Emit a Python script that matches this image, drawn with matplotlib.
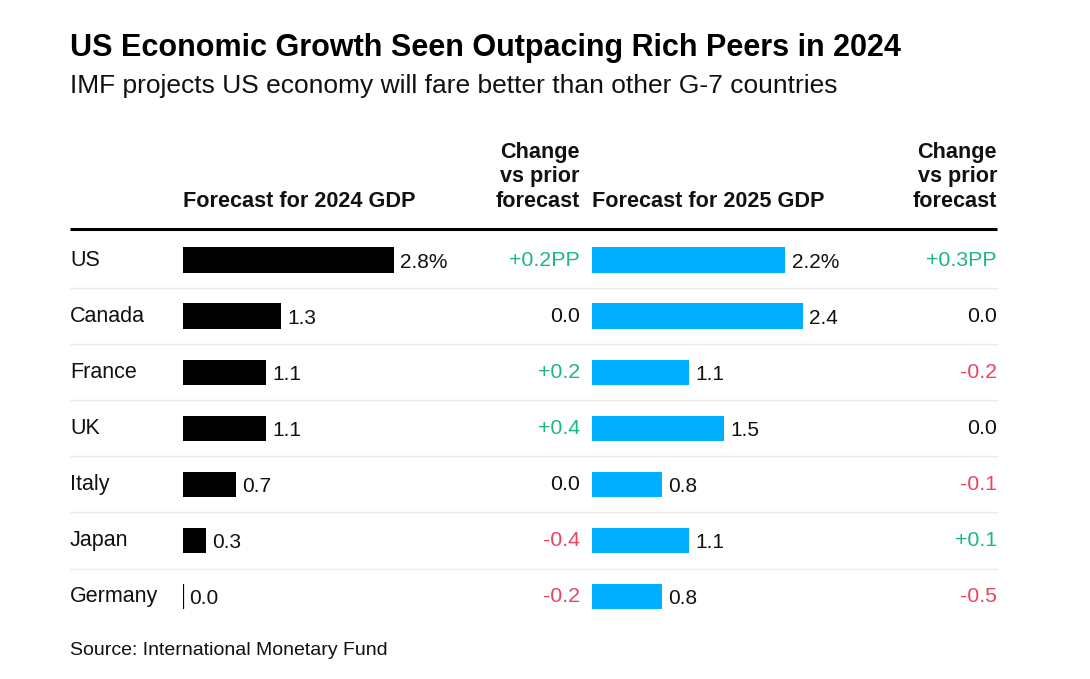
import numpy as np
import matplotlib
matplotlib.use("Agg")
import matplotlib.pyplot as plt
from matplotlib.transforms import blended_transform_factory

plt.rcParams['font.family'] = ['Liberation Sans', 'DejaVu Sans']

# data
countries = ["US", "Canada", "France", "UK", "Italy", "Japan", "Germany"]
gdp_2024 = [2.8, 1.3, 1.1, 1.1, 0.7, 0.3, 0.0]
gdp_2025 = [2.2, 2.4, 1.1, 1.5, 0.8, 1.1, 0.8]
chg_2024 = [0.2, 0.0, 0.2, 0.4, 0.0, -0.4, -0.2]
chg_2025 = [0.3, 0.0, -0.2, 0.0, -0.1, 0.1, -0.5]

W, H = 1090, 679
GREEN = "#1bb87c"
RED = "#e8465f"
BLUE = "#00aeff"

fig = plt.figure(figsize=(W / 100, H / 100), dpi=100)
fig.patch.set_facecolor("white")

# overlay axes in pixel units for the text and rules
ax0 = fig.add_axes([0, 0, 1, 1])
ax0.set_xlim(0, W)
ax0.set_ylim(H, 0)
ax0.axis("off")

n = len(countries)
row0, step = 260, 56.1
top_px = row0 - step / 2
bot_px = row0 + step * (n - 0.5)


def bar_axes(left_px, width_px):
    ax = fig.add_axes([left_px / W, 1 - bot_px / H, width_px / W, (bot_px - top_px) / H])
    ax.set_ylim(n - 0.5, -0.5)
    ax.axis("off")
    ax.patch.set_alpha(0)
    return ax


ax24 = bar_axes(183, 211)
ax24.set_xlim(0, max(gdp_2024))
ax25 = bar_axes(592, 211)
ax25.set_xlim(0, max(gdp_2025))

bh = 0.45
y = np.arange(n)
for ax, vals, col in [(ax24, gdp_2024, "black"), (ax25, gdp_2025, BLUE)]:
    ax.barh(y, vals, height=bh, color=col, linewidth=0)
    for i, v in enumerate(vals):
        if v == 0:
            ax.plot([0, 0], [i - bh / 2, i + bh / 2], color=col, lw=1.6, solid_capstyle="butt")
        lab = f"{v:.1f}%" if i == 0 else f"{v:.1f}"
        ax.annotate(lab, (v, i), xytext=(4.5, -1.5), textcoords="offset points",
                    ha="left", va="center", fontsize=15, color="#111111")

# country labels and change columns share the row scale
tr = blended_transform_factory(ax0.transData, ax24.transData)
for i, c in enumerate(countries):
    ax0.text(70, i, c, transform=tr, ha="left", va="center", fontsize=15.5, color="#111111")


def fmt(v, first):
    s = "0.0" if v == 0 else f"{v:+.1f}"
    if first and v != 0:
        s += "PP"
    return s


def col(v):
    if v > 0:
        return GREEN
    if v < 0:
        return RED
    return "#111111"


for xr, chg in [(580, chg_2024), (997, chg_2025)]:
    for i, v in enumerate(chg):
        ax0.text(xr, i, fmt(v, i == 0), transform=tr, ha="right", va="center",
                 fontsize=15.4, color=col(v))

# separators
for i in range(n - 1):
    ax0.plot([70, 997], [i + 0.5, i + 0.5], transform=tr, color="#ebebeb", lw=1)
ax0.plot([70, 997], [229, 229], color="black", lw=2.2, solid_capstyle="butt")

# headers
hdr = dict(fontsize=15.6, fontweight="bold", color="#111111")
ax0.text(183, 207, "Forecast for 2024 GDP", ha="left", va="baseline", **hdr)
ax0.text(592, 207, "Forecast for 2025 GDP", ha="left", va="baseline", **hdr)
for xr in (580, 997):
    ax0.text(xr, 207, "Change\nvs prior\nforecast", ha="right", va="baseline",
             linespacing=1.22, **hdr)

# titles
ax0.text(70, 56, "US Economic Growth Seen Outpacing Rich Peers in 2024", ha="left",
         va="baseline", fontsize=22, fontweight="bold", color="black")
ax0.text(70, 93, "IMF projects US economy will fare better than other G-7 countries",
         ha="left", va="baseline", fontsize=19, color="#111111")
ax0.text(70, 655, "Source: International Monetary Fund", ha="left", va="baseline",
         fontsize=14, color="#111111")

fig.savefig("out.png", dpi=100, facecolor="white")
